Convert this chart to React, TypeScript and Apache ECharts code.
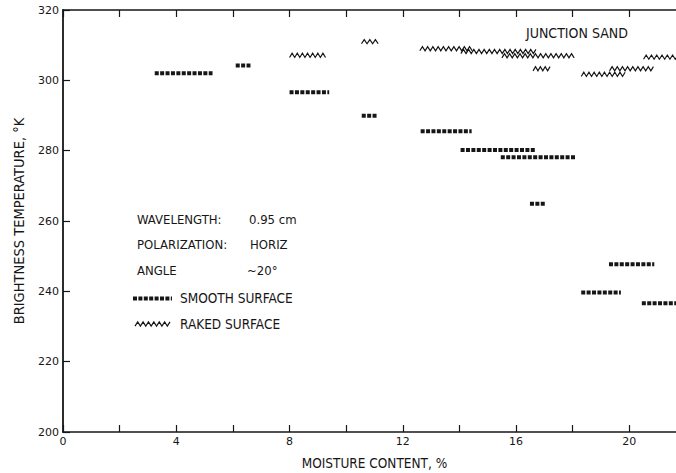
import React, { useEffect, useRef } from "react";
import * as echarts from "echarts";

// x-axis labelled ticks (moisture content, %)
const xLabelTicks = [0, 4, 8, 12, 16, 20];
const yTicks = [200, 220, 240, 260, 280, 300, 320];

// Smooth surface: horizontal segments [start %, end %] at brightness temperature (K)
const smoothStart = [3.24, 6.1, 8.0, 10.55, 12.63, 14.04, 15.46, 16.49, 18.3, 19.28, 20.44];
const smoothEnd = [5.28, 6.62, 9.4, 11.1, 14.43, 16.67, 18.08, 17.05, 19.7, 20.88, 21.9];
const smoothTemp = [302.0, 304.2, 296.6, 289.9, 285.5, 280.2, 278.1, 264.9, 239.7, 247.7, 236.6];

// Raked surface segments
const rakedStart = [8.0, 10.54, 12.6, 14.05, 15.5, 16.6, 18.3, 19.3, 20.5];
const rakedEnd = [9.27, 11.13, 14.45, 16.7, 18.05, 17.2, 19.85, 20.85, 21.9];
const rakedTemp = [307.1, 311.0, 309.0, 308.2, 307.0, 303.3, 301.7, 303.3, 306.6];

const FONT = "'Liberation Sans Narrow', 'DejaVu Sans Condensed', sans-serif";
const INK = "#161616";

export default function App() {
  const ref = useRef<HTMLDivElement>(null);
  useEffect(() => {
    if (!ref.current) return;
    const chart = echarts.init(ref.current, undefined, { renderer: "svg" });

    const smoothData = smoothStart.map((s, i) => [s, smoothEnd[i], smoothTemp[i]]);
    const rakedData = rakedStart.map((s, i) => [s, rakedEnd[i], rakedTemp[i]]);

    const zig = (x1: number, x2: number, y: number, amp: number, half: number) => {
      const len = x2 - x1;
      const n = Math.max(1, Math.round(len / half));
      const pts: number[][] = [];
      for (let i = 0; i <= n; i++) pts.push([x1 + (i * len) / n, y + (i % 2 === 0 ? amp : -amp)]);
      return pts;
    };

    const textStyle = (text: string, x: number, y: number, size = 13) => ({
      type: "text",
      left: x,
      top: y,
      style: { text, fill: INK, font: `${size}px ${FONT}` },
    });

    const option: any = {
      animation: false,
      backgroundColor: "#ffffff",
      grid: { left: 63, width: 623, top: 10, height: 422, outerBoundsMode: "none", containLabel: false },
      xAxis: [
        {
          type: "value",
          position: "bottom",
          min: 0,
          max: 22,
          interval: 2,
          name: "MOISTURE CONTENT, %",
          nameLocation: "middle",
          nameGap: 24,
          nameTextStyle: { color: INK, fontFamily: FONT, fontSize: 13.5 },
          axisLine: { show: true, lineStyle: { color: INK, width: 1.5 } },
          axisTick: { show: true, inside: true, length: 7, lineStyle: { color: INK, width: 1.2 } },
          axisLabel: {
            color: INK,
            fontFamily: "DejaVu Sans",
            fontSize: 11,
            margin: 4,
            formatter: (v: number) => (xLabelTicks.includes(v) ? String(v) : ""),
          },
          splitLine: { show: false },
        },
        {
          type: "value",
          position: "top",
          min: 0,
          max: 22,
          interval: 2,
          axisLine: { show: true, lineStyle: { color: INK, width: 1.5 } },
          axisTick: { show: true, inside: true, length: 7, lineStyle: { color: INK, width: 1.2 } },
          axisLabel: { show: false },
          splitLine: { show: false },
        },
      ],
      yAxis: {
        type: "value",
        min: 200,
        max: 320,
        interval: 20,
        name: "BRIGHTNESS TEMPERATURE, °K",
        nameLocation: "middle",
        nameGap: 37,
        nameTextStyle: { color: INK, fontFamily: FONT, fontSize: 14.5 },
        axisLine: { show: true, lineStyle: { color: INK, width: 1.8 } },
        axisTick: { show: true, inside: true, length: 7, lineStyle: { color: INK, width: 1.2 } },
        axisLabel: {
          color: INK,
          fontFamily: "DejaVu Sans",
          fontSize: 11,
          margin: 4,
          formatter: (v: number) => (yTicks.includes(v) ? String(v) : ""),
        },
        splitLine: { show: false },
      },
      series: [
        {
          type: "custom",
          name: "SMOOTH SURFACE",
          xAxisIndex: 0,
          data: smoothData,
          encode: { x: [0, 1], y: 2 },
          renderItem: (params: any, api: any) => {
            const p1 = api.coord([api.value(0), api.value(2)]);
            const p2 = api.coord([api.value(1), api.value(2)]);
            return {
              type: "line",
              shape: { x1: p1[0], y1: p1[1], x2: p2[0], y2: p2[1] },
              style: { stroke: INK, lineWidth: 4, lineDash: [4, 1.4], lineCap: "butt" },
            };
          },
        },
        {
          type: "custom",
          name: "RAKED SURFACE",
          xAxisIndex: 0,
          data: rakedData,
          encode: { x: [0, 1], y: 2 },
          renderItem: (params: any, api: any) => {
            const p1 = api.coord([api.value(0), api.value(2)]);
            const p2 = api.coord([api.value(1), api.value(2)]);
            return {
              type: "polyline",
              shape: { points: zig(p1[0], p2[0], p1[1], 2.1, 2.6) },
              style: { stroke: INK, lineWidth: 1.2, fill: null },
            };
          },
        },
      ],
      graphic: [
        textStyle("JUNCTION SAND", 526, 26, 14),
        textStyle("WAVELENGTH:", 137, 213),
        textStyle("0.95 cm", 249, 213),
        textStyle("POLARIZATION:", 137, 238),
        textStyle("HORIZ", 250, 238),
        textStyle("ANGLE", 137, 264),
        textStyle("~20°", 247, 264),
        textStyle("SMOOTH SURFACE", 180, 291, 13.5),
        textStyle("RAKED SURFACE", 180, 317, 13.5),
        {
          type: "line",
          shape: { x1: 133, y1: 298.5, x2: 172, y2: 298.5 },
          style: { stroke: INK, lineWidth: 4, lineDash: [4, 1.4] },
        },
        {
          type: "polyline",
          shape: { points: zig(135, 170, 324, 2.1, 2.6) },
          style: { stroke: INK, lineWidth: 1.2, fill: null },
        },
      ],
    };
    chart.setOption(option);
    return () => chart.dispose();
  }, []);
  return (
    <div
      ref={ref}
      style={{ position: "absolute", left: 0, top: 0, width: 676, height: 473, overflow: "hidden" }}
    />
  );
}
